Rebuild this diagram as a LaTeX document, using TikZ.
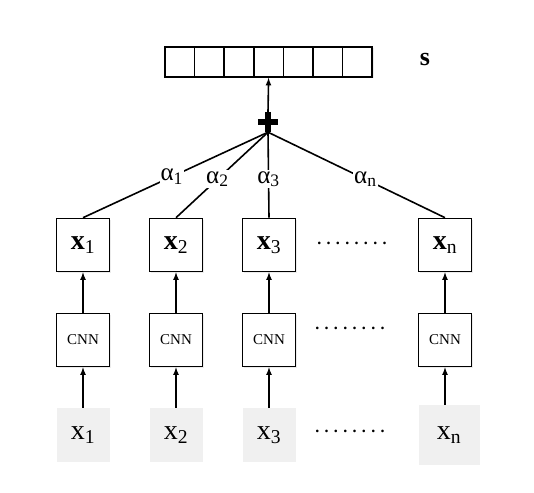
\documentclass[tikz,border=0pt]{standalone}
\usepackage{fontspec}
\setmainfont{Liberation Serif}
\usetikzlibrary{shadows}
\usepackage{amsmath,amssymb}

\begin{document}
\begin{tikzpicture}[x=1pt,y=-1pt]
  \tikzset{box style/.style = {draw, fill=white, line width=1.6pt, minimum width=53pt, minimum height=53pt, inner sep=0pt,
             drop shadow={opacity=0.15, shadow xshift=1.5pt, shadow yshift=-1.5pt}},
           cell style/.style = {draw, fill=white, line width=1.6pt, minimum width=29.6pt, minimum height=30pt, inner sep=0pt,
             drop shadow={opacity=0.15, shadow xshift=1.5pt, shadow yshift=-1.5pt}},
           input style/.style = {fill=gray!12, minimum width=53pt, minimum height=54pt, inner sep=0pt},
           alpha style/.style = {fill=white, inner sep=1pt, font=\fontsize{25}{25}\selectfont},
           big font/.style = {font=\fontsize{28}{28}\selectfont},
           dots style/.style = {font=\fontsize{16}{16}\selectfont\bfseries},
           arrow style/.style = {-latex, line width=1.6pt}}
  \useasboundingbox (0,0) rectangle (534,492);

  % sentence vector
  \foreach \i in {1,...,7}
    \node[cell style] (s\i) at ({165+29.6*(\i-0.5)},62) {};
  \node[font=\fontsize{26}{26}\selectfont\bfseries] (slab) at (425,60) {s};

  % sum
  \node[minimum size=20pt, inner sep=0pt] (sum) at (268,122) {};
  \draw[line width=5.5pt] (sum.north) -- (sum.south) (sum.west) -- (sum.east);
  \draw[arrow style] (sum.north) -- (s4.south);

  % columns
  \foreach \x/\n in {83/1, 176/2, 269/3, 445/n} {
    \node[box style, big font] (h\n) at (\x,245) {\textbf{x}\textsubscript{\n}};
    \node[box style, font=\fontsize{15}{15}\selectfont] (c\n) at (\x,340) {CNN};
    \draw[arrow style] (c\n.north) -- (h\n.south);
  }
  \foreach \x/\n in {83/1, 176/2, 269/3}
    \node[input style, big font] (in\n) at (\x,435) {x\textsubscript{\n}};
  \node[input style, big font, minimum width=61pt, minimum height=60pt] (inn) at (449,435) {x\textsubscript{n}};
  \foreach \n in {1,2,3,n}
    \draw[arrow style] (in\n.north -| c\n) -- (c\n.south);

  % attention weights
  \draw[line width=1.6pt] (sum.south) -- node[alpha style, pos=0.52] {α\textsubscript{1}} (h1.north);
  \draw[line width=1.6pt] (sum.south) -- node[alpha style, pos=0.55] {α\textsubscript{2}} (h2.north);
  \draw[line width=1.6pt] (sum.south) -- node[alpha style, pos=0.55] {α\textsubscript{3}} (h3.north);
  \draw[line width=1.6pt] (sum.south) -- node[alpha style, pos=0.55] {α\textsubscript{n}} (hn.north);

  % dots
  \node[dots style] (d1) at (352,243) {. . . . . . . .};
  \node[dots style] (d2) at (350,328) {. . . . . . . .};
  \node[dots style] (d3) at (350,431) {. . . . . . . .};
\end{tikzpicture}
\end{document}
